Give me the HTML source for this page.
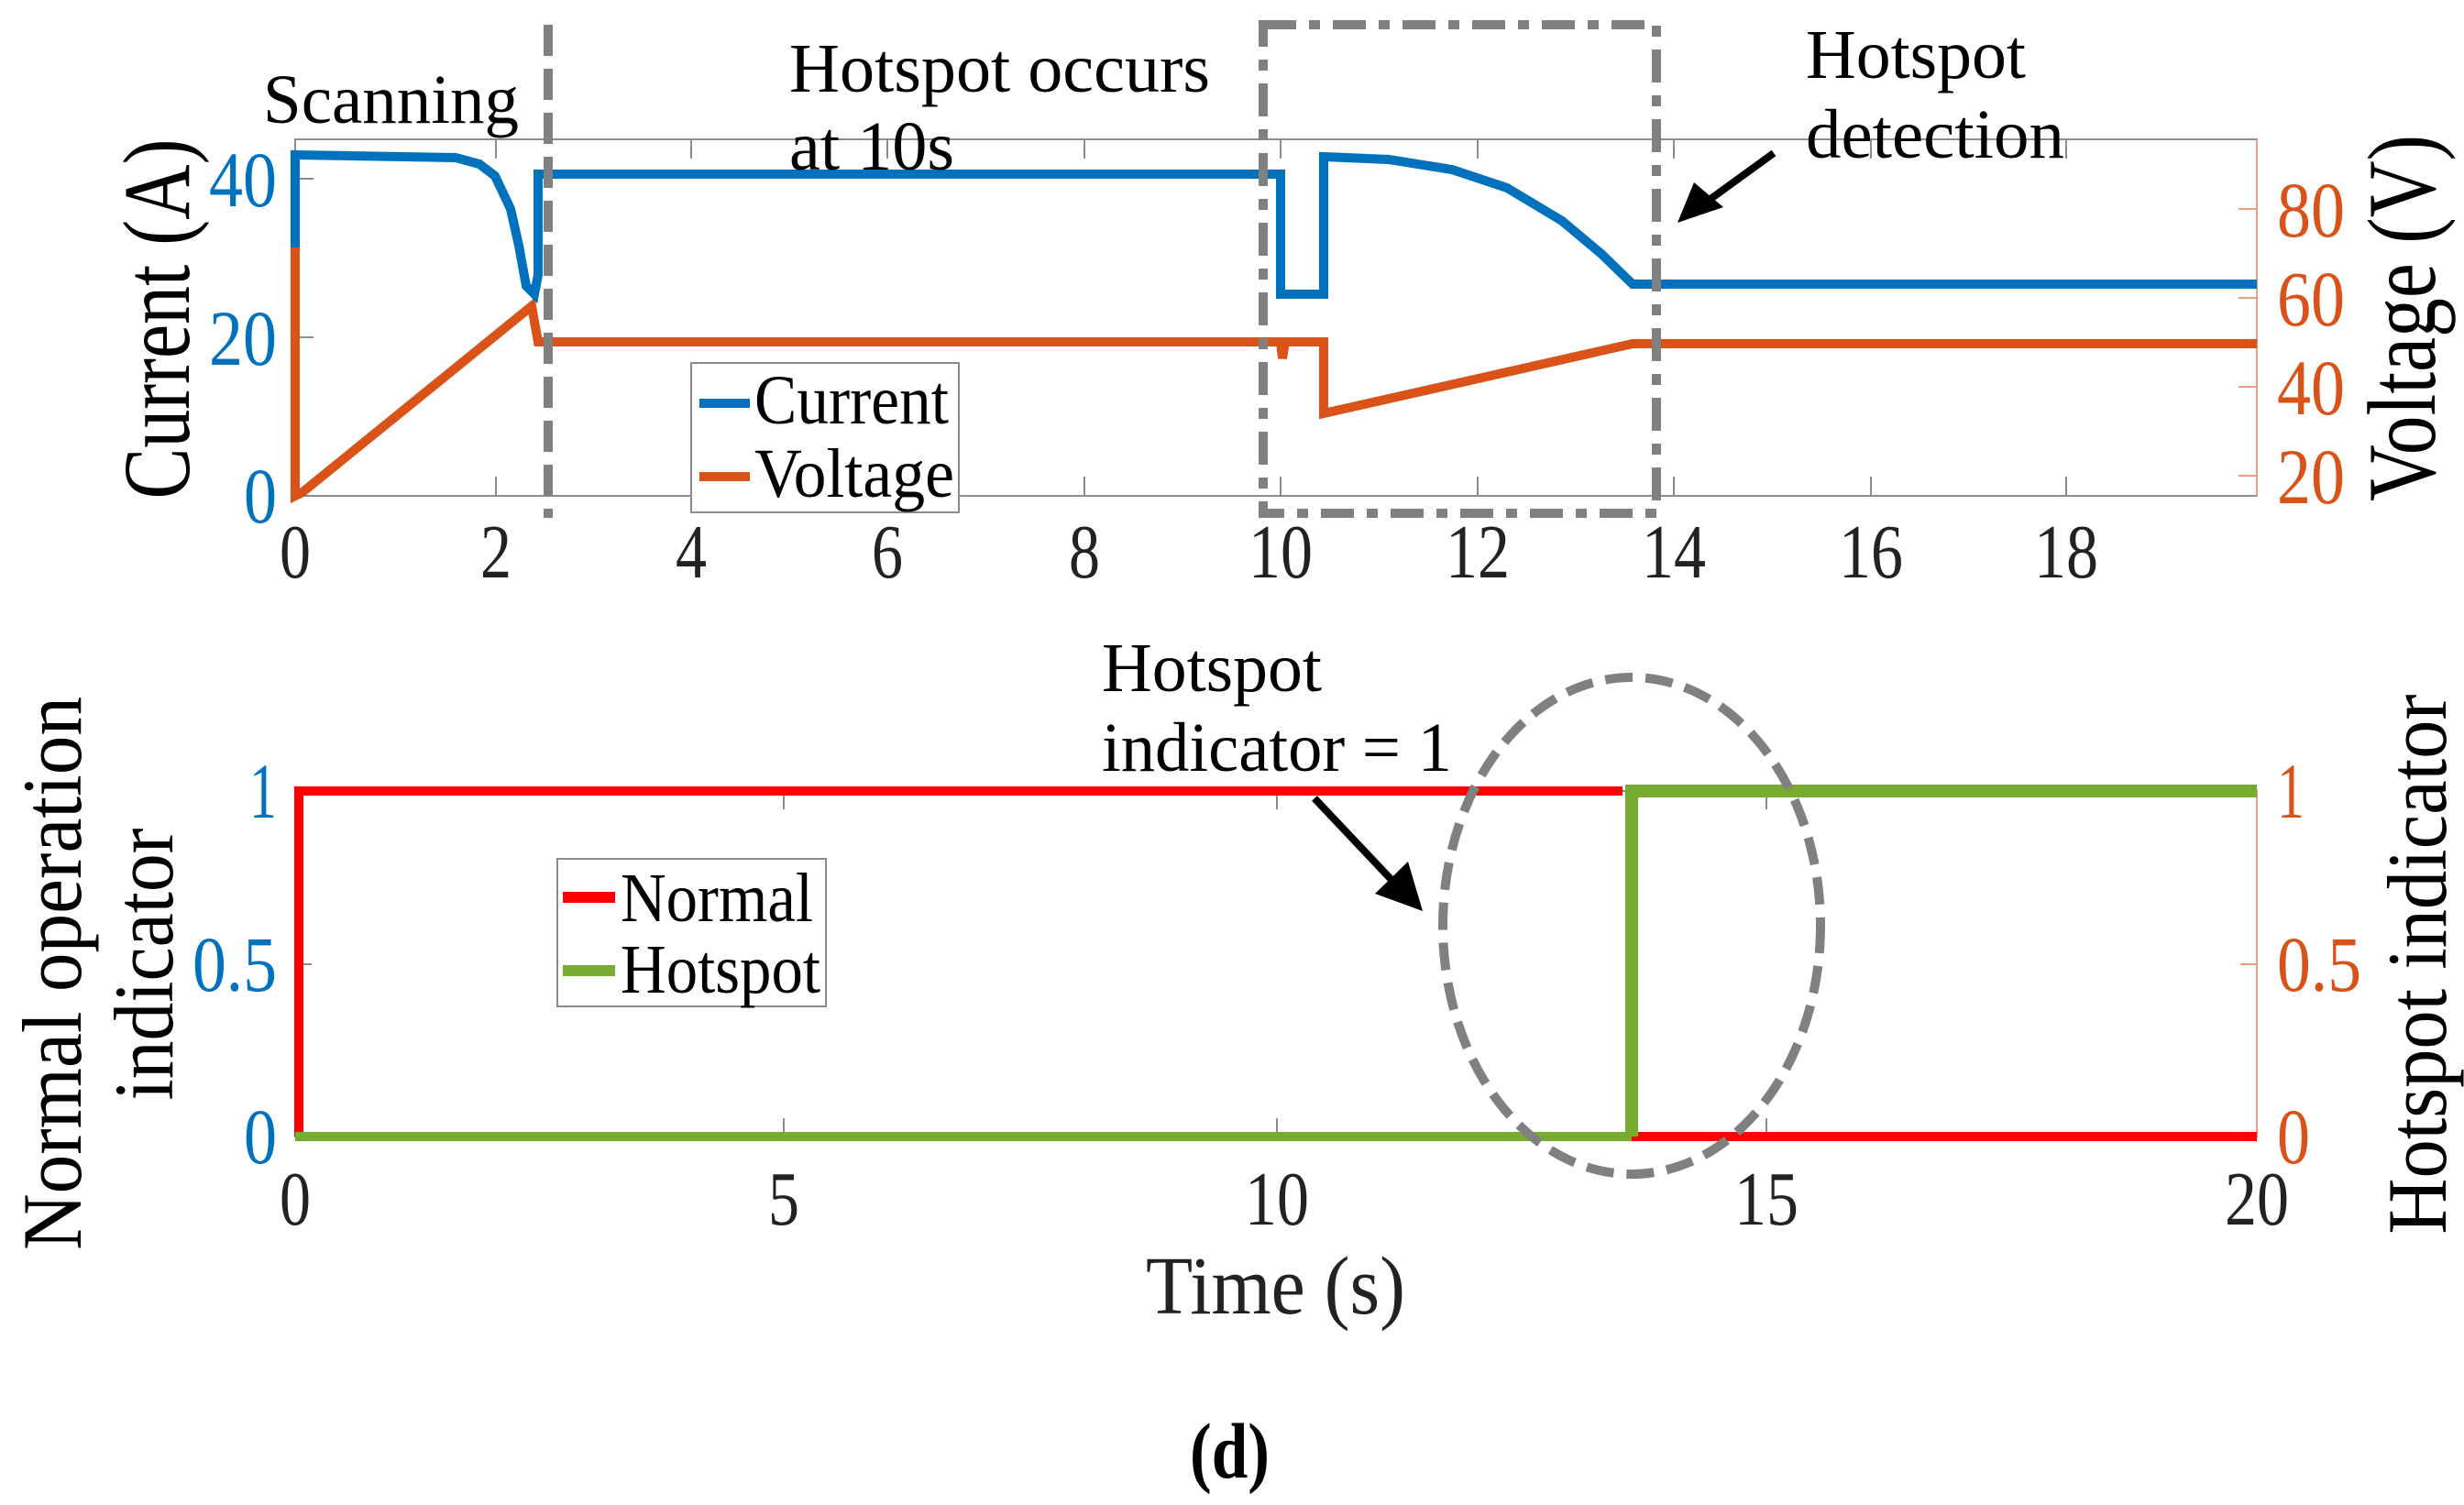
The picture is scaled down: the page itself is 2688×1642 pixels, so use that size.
<!DOCTYPE html>
<html><head><meta charset="utf-8"><style>
html,body{margin:0;padding:0;background:#fff;}
svg{display:block;}
text{font-family:"Liberation Serif",serif;}
</style></head><body>
<svg width="2688" height="1642" viewBox="0 0 2688 1642" xmlns="http://www.w3.org/2000/svg">
<rect width="2688" height="1642" fill="#fff"/>
<!-- ===== TOP PLOT ===== -->
<rect x="322" y="152" width="2140" height="389" fill="none" stroke="#8c8c8c" stroke-width="2"/>
<line x1="2462" y1="152" x2="2462" y2="541" stroke="#e8a080" stroke-width="2"/>
<g stroke="#8c8c8c" stroke-width="2">
<line x1="541" y1="541" x2="541" y2="520"/><line x1="754" y1="541" x2="754" y2="520"/><line x1="968" y1="541" x2="968" y2="520"/><line x1="1183" y1="541" x2="1183" y2="520"/><line x1="1397" y1="541" x2="1397" y2="520"/><line x1="1612" y1="541" x2="1612" y2="520"/><line x1="1826" y1="541" x2="1826" y2="520"/><line x1="2041" y1="541" x2="2041" y2="520"/><line x1="2254" y1="541" x2="2254" y2="520"/>
<line x1="541" y1="152" x2="541" y2="173"/><line x1="754" y1="152" x2="754" y2="173"/><line x1="968" y1="152" x2="968" y2="173"/><line x1="1183" y1="152" x2="1183" y2="173"/><line x1="1397" y1="152" x2="1397" y2="173"/><line x1="1612" y1="152" x2="1612" y2="173"/><line x1="1826" y1="152" x2="1826" y2="173"/><line x1="2041" y1="152" x2="2041" y2="173"/><line x1="2254" y1="152" x2="2254" y2="173"/>
<line x1="322" y1="195" x2="342" y2="195"/><line x1="322" y1="368" x2="342" y2="368"/>
</g>
<g stroke="#e8a080" stroke-width="2">
<line x1="2462" y1="228" x2="2442" y2="228"/><line x1="2462" y1="325" x2="2442" y2="325"/><line x1="2462" y1="422" x2="2442" y2="422"/><line x1="2462" y1="519" x2="2442" y2="519"/>
</g>
<!-- voltage -->
<polyline fill="none" stroke="#D95319" stroke-width="10"
 points="322,270 322,541 330,537 580,334 587,373 1397,373 1399,391 1402,373 1444,373 1444,451 1781,375 2462,375"/>
<!-- current -->
<polyline fill="none" stroke="#0072BD" stroke-width="10"
 points="322,270 322,169 497,172 523,179 540,192 557,228 566,268 574,312 583,321 587,300 587,190 1397,190 1397,321 1444,321 1444,171 1515,174 1584,185 1644,205 1704,241 1747,277 1781,310 2462,310"/>
<!-- tick labels top -->
<g font-size="84" fill="#222" text-anchor="middle" lengthAdjust="spacingAndGlyphs">
<text x="322" y="630" textLength="34" lengthAdjust="spacingAndGlyphs">0</text><text x="541" y="630" textLength="34" lengthAdjust="spacingAndGlyphs">2</text><text x="754" y="630" textLength="34" lengthAdjust="spacingAndGlyphs">4</text><text x="968" y="630" textLength="34" lengthAdjust="spacingAndGlyphs">6</text><text x="1183" y="630" textLength="34" lengthAdjust="spacingAndGlyphs">8</text><text x="1397" y="630" textLength="70" lengthAdjust="spacingAndGlyphs">10</text><text x="1612" y="630" textLength="70" lengthAdjust="spacingAndGlyphs">12</text><text x="1826" y="630" textLength="70" lengthAdjust="spacingAndGlyphs">14</text><text x="2041" y="630" textLength="70" lengthAdjust="spacingAndGlyphs">16</text><text x="2254" y="630" textLength="70" lengthAdjust="spacingAndGlyphs">18</text>
</g>
<g font-size="86" fill="#0072BD" text-anchor="end">
<text x="302" y="225" textLength="74" lengthAdjust="spacingAndGlyphs">40</text><text x="302" y="398" textLength="74" lengthAdjust="spacingAndGlyphs">20</text><text x="302" y="570" textLength="36" lengthAdjust="spacingAndGlyphs">0</text>
</g>
<g font-size="86" fill="#D95319" text-anchor="start">
<text x="2484" y="258" textLength="74" lengthAdjust="spacingAndGlyphs">80</text><text x="2484" y="355" textLength="74" lengthAdjust="spacingAndGlyphs">60</text><text x="2484" y="452" textLength="74" lengthAdjust="spacingAndGlyphs">40</text><text x="2484" y="549" textLength="74" lengthAdjust="spacingAndGlyphs">20</text>
</g>
<text transform="translate(206,348) rotate(-90)" font-size="104" text-anchor="middle" textLength="393" lengthAdjust="spacingAndGlyphs">Current (A)</text>
<text transform="translate(2656,347) rotate(-90)" font-size="106" text-anchor="middle" textLength="400" lengthAdjust="spacingAndGlyphs">Voltage (V)</text>
<!-- legend top -->
<rect x="754" y="396" width="292" height="163" fill="#fff" stroke="#8c8c8c" stroke-width="2"/>
<line x1="763" y1="440" x2="818" y2="440" stroke="#0072BD" stroke-width="10"/>
<line x1="763" y1="520" x2="818" y2="520" stroke="#D95319" stroke-width="10"/>
<text x="823" y="462" font-size="76" textLength="212" lengthAdjust="spacingAndGlyphs">Current</text>
<text x="823" y="542" font-size="76" textLength="218" lengthAdjust="spacingAndGlyphs">Voltage</text>
<!-- annotations top -->
<text x="287" y="134" font-size="76" textLength="279" lengthAdjust="spacingAndGlyphs">Scanning</text>
<text x="861" y="100" font-size="76" textLength="459" lengthAdjust="spacingAndGlyphs">Hotspot occurs</text>
<text x="861" y="185" font-size="76" textLength="180" lengthAdjust="spacingAndGlyphs">at 10s</text>
<text x="1970" y="85" font-size="76" textLength="240" lengthAdjust="spacingAndGlyphs">Hotspot</text>
<text x="1970" y="172" font-size="76" textLength="282" lengthAdjust="spacingAndGlyphs">detection</text>
<line x1="1935" y1="167" x2="1862" y2="220" stroke="#000" stroke-width="8"/>
<polygon points="1830,243 1848,199 1880,226" fill="#000"/>
<line x1="598" y1="27" x2="598" y2="565" stroke="#808080" stroke-width="10" stroke-dasharray="34 14"/>
<rect x="1378" y="27" width="429" height="533" fill="none" stroke="#808080" stroke-width="10" stroke-dasharray="36 14 12 14"/>
<!-- ===== BOTTOM PLOT ===== -->
<rect x="322" y="863" width="2140" height="377" fill="none" stroke="#8c8c8c" stroke-width="2"/>
<line x1="2462" y1="863" x2="2462" y2="1240" stroke="#e8a080" stroke-width="2"/>
<g stroke="#8c8c8c" stroke-width="2">
<line x1="855" y1="1240" x2="855" y2="1220"/><line x1="1393" y1="1240" x2="1393" y2="1220"/><line x1="1927" y1="1240" x2="1927" y2="1220"/>
<line x1="855" y1="863" x2="855" y2="883"/><line x1="1393" y1="863" x2="1393" y2="883"/><line x1="1927" y1="863" x2="1927" y2="883"/>
<line x1="322" y1="1052" x2="340" y2="1052"/>
</g>
<line x1="2462" y1="1052" x2="2444" y2="1052" stroke="#e8a080" stroke-width="2"/>
<polyline fill="none" stroke="#FF0000" stroke-width="10" points="326,1240 326,863 1770,863"/>
<line x1="1780" y1="1240" x2="2462" y2="1240" stroke="#FF0000" stroke-width="10"/>
<polyline fill="none" stroke="#77AC30" stroke-width="10" points="322,1240 1780,1240"/>
<polyline fill="none" stroke="#77AC30" stroke-width="14" points="1780,1240 1780,863 2462,863"/>
<g font-size="84" fill="#222" text-anchor="middle">
<text x="322" y="1336" textLength="34" lengthAdjust="spacingAndGlyphs">0</text><text x="855" y="1336" textLength="34" lengthAdjust="spacingAndGlyphs">5</text><text x="1393" y="1336" textLength="70" lengthAdjust="spacingAndGlyphs">10</text><text x="1927" y="1336" textLength="70" lengthAdjust="spacingAndGlyphs">15</text><text x="2462" y="1336" textLength="70" lengthAdjust="spacingAndGlyphs">20</text>
</g>
<g font-size="86" fill="#0072BD" text-anchor="end">
<text x="302" y="892" textLength="30" lengthAdjust="spacingAndGlyphs">1</text><text x="302" y="1081" textLength="92" lengthAdjust="spacingAndGlyphs">0.5</text><text x="302" y="1269" textLength="36" lengthAdjust="spacingAndGlyphs">0</text>
</g>
<g font-size="86" fill="#D95319" text-anchor="start">
<text x="2484" y="892" textLength="30" lengthAdjust="spacingAndGlyphs">1</text><text x="2484" y="1081" textLength="92" lengthAdjust="spacingAndGlyphs">0.5</text><text x="2484" y="1269" textLength="36" lengthAdjust="spacingAndGlyphs">0</text>
</g>
<text transform="translate(88,1062) rotate(-90)" font-size="92" text-anchor="middle" textLength="604" lengthAdjust="spacingAndGlyphs">Normal operation</text>
<text transform="translate(188,1052) rotate(-90)" font-size="92" text-anchor="middle" textLength="297" lengthAdjust="spacingAndGlyphs">indicator</text>
<text transform="translate(2668,1052) rotate(-90)" font-size="92" text-anchor="middle" textLength="589" lengthAdjust="spacingAndGlyphs">Hotspot indicator</text>
<text x="1250" y="1433" font-size="90" textLength="283" lengthAdjust="spacingAndGlyphs" fill="#222">Time (s)</text>
<text x="1298" y="1612" font-size="86" font-weight="bold" textLength="87" lengthAdjust="spacingAndGlyphs">(d)</text>
<!-- legend bottom -->
<rect x="608" y="937" width="293" height="161" fill="#fff" stroke="#8c8c8c" stroke-width="2"/>
<line x1="614" y1="979" x2="671" y2="979" stroke="#FF0000" stroke-width="12"/>
<line x1="614" y1="1059" x2="671" y2="1059" stroke="#77AC30" stroke-width="12"/>
<text x="677" y="1005" font-size="76" textLength="210" lengthAdjust="spacingAndGlyphs">Normal</text>
<text x="677" y="1083" font-size="76" textLength="218" lengthAdjust="spacingAndGlyphs">Hotspot</text>
<!-- annotation bottom -->
<text x="1202" y="754" font-size="76" textLength="240" lengthAdjust="spacingAndGlyphs">Hotspot</text>
<text x="1202" y="841" font-size="76" textLength="382" lengthAdjust="spacingAndGlyphs">indicator = 1</text>
<line x1="1434" y1="871" x2="1520" y2="962" stroke="#000" stroke-width="8"/>
<polygon points="1552,994 1500,975 1536,940" fill="#000"/>
<ellipse cx="1780" cy="1010" rx="206" ry="271" fill="none" stroke="#808080" stroke-width="10" stroke-dasharray="30 14"/>
</svg>
</body></html>
